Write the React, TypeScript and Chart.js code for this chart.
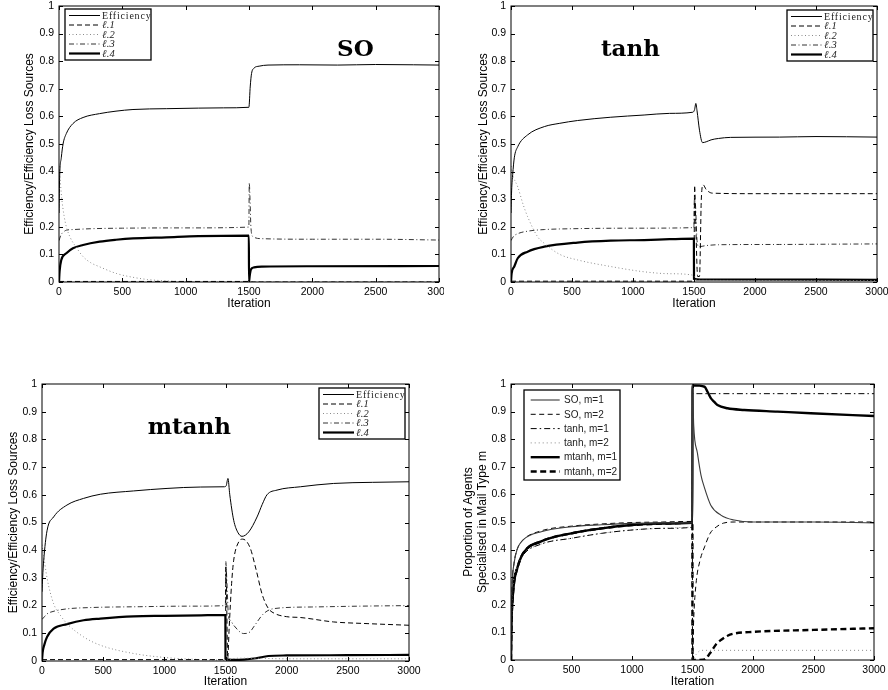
import React, { useEffect, useRef } from 'react';
import { Chart, registerables } from 'chart.js';
Chart.register(...registerables);

type Pt = [number, number];

// ---------- tick labels / text ----------
const X_TICKS = ['0', '500', '1000', '1500', '2000', '2500', '3000'];
const Y_TICKS = ['0', '0.1', '0.2', '0.3', '0.4', '0.5', '0.6', '0.7', '0.8', '0.9', '1'];
const LOSS_LABELS = ['Efficiency', 'ℓ.1', 'ℓ.2', 'ℓ.3', 'ℓ.4'];
const SPEC_LABELS = ['SO, m=1', 'SO, m=2', 'tanh, m=1', 'tanh, m=2', 'mtanh, m=1', 'mtanh, m=2'];
const PANEL_TITLES = ['SO', 'tanh', 'mtanh'];
const LOSS_Y_TITLE = 'Efficiency/Efficiency Loss Sources';
const SPEC_Y_TITLE = ['Proportion of Agents', 'Specialised in Mail Type m'];
const X_TITLE = 'Iteration';

// ---------- data: [iteration, value] ----------
// SO
const soEff: Pt[] = [[0,0.25],[5,0.38],[18,0.45],[32,0.5],[58,0.538],[110,0.574],[190,0.596],[320,0.61],[450,0.619],[584,0.625],[847,0.628],[1100,0.63],[1300,0.631],[1499,0.633],[1510,0.71],[1520,0.755],[1540,0.775],[1580,0.782],[1650,0.786],[1900,0.787],[2200,0.786],[2500,0.788],[2800,0.787],[3000,0.786]];
const soL1: Pt[] = [[0,0.002],[1499,0.002],[1500,0],[3000,0]];
const soL2: Pt[] = [[0,0.42],[8,0.38],[20,0.31],[40,0.24],[58,0.2],[90,0.16],[137,0.125],[190,0.092],[250,0.07],[321,0.055],[452,0.031],[584,0.017],[700,0.009],[847,0.004],[1000,0.001],[1490,0],[3000,0]];
const soL3: Pt[] = [[0,0.15],[15,0.17],[32,0.18],[60,0.188],[110,0.19],[250,0.193],[500,0.195],[1000,0.196],[1499,0.199],[1502,0.36],[1508,0.3],[1515,0.2],[1530,0.165],[1600,0.157],[2000,0.155],[2500,0.155],[3000,0.152]];
const soL4: Pt[] = [[0,0],[5,0.04],[18,0.08],[58,0.104],[110,0.122],[190,0.134],[321,0.146],[450,0.153],[584,0.158],[847,0.162],[1100,0.166],[1499,0.168],[1500,0],[1505,0.02],[1515,0.045],[1540,0.053],[1600,0.056],[2000,0.057],[3000,0.058]];
// tanh
const tanhEff: Pt[] = [[0,0.25],[5,0.33],[14,0.39],[27,0.45],[55,0.49],[136,0.533],[273,0.563],[400,0.575],[545,0.585],[818,0.597],[1091,0.605],[1300,0.611],[1490,0.615],[1505,0.625],[1515,0.647],[1525,0.62],[1545,0.55],[1570,0.505],[1600,0.508],[1640,0.515],[1700,0.52],[1800,0.524],[2200,0.525],[2500,0.527],[3000,0.525]];
const tanhL1: Pt[] = [[0,0.003],[1499,0.003],[1505,0.35],[1515,0.2],[1530,0.02],[1545,0.02],[1560,0.3],[1575,0.352],[1600,0.335],[1650,0.322],[2000,0.32],[2500,0.32],[3000,0.32]];
const tanhL2: Pt[] = [[0,0.42],[8,0.4],[20,0.38],[55,0.345],[100,0.28],[136,0.237],[218,0.164],[273,0.14],[400,0.1],[545,0.08],[818,0.056],[1091,0.037],[1300,0.03],[1499,0.024],[1510,0.01],[1560,0.006],[3000,0.005]];
const tanhL3: Pt[] = [[0,0.15],[20,0.165],[55,0.175],[150,0.185],[273,0.19],[500,0.193],[1000,0.195],[1499,0.197],[1503,0.3],[1512,0.28],[1525,0.15],[1540,0.128],[1600,0.132],[1700,0.135],[2200,0.136],[2600,0.137],[3000,0.138]];
const tanhL4: Pt[] = [[0,0],[5,0.03],[27,0.056],[55,0.086],[136,0.11],[273,0.128],[545,0.143],[818,0.15],[1091,0.152],[1300,0.155],[1499,0.157],[1500,0.012],[1550,0.009],[3000,0.008]];
// mtanh
const mEff: Pt[] = [[0,0.25],[5,0.3],[14,0.364],[41,0.47],[95,0.52],[204,0.563],[340,0.587],[477,0.602],[749,0.614],[1022,0.623],[1294,0.628],[1490,0.629],[1505,0.632],[1520,0.659],[1535,0.6],[1567,0.508],[1600,0.465],[1635,0.45],[1690,0.466],[1758,0.52],[1800,0.565],[1839,0.6],[1921,0.617],[2112,0.629],[2384,0.641],[2700,0.645],[3000,0.647]];
const mL1: Pt[] = [[0,0.005],[1499,0.005],[1504,0.34],[1510,0.2],[1518,0.01],[1530,0.12],[1550,0.28],[1567,0.364],[1608,0.43],[1640,0.44],[1700,0.41],[1750,0.33],[1800,0.24],[1850,0.19],[1900,0.172],[2000,0.16],[2112,0.157],[2384,0.141],[2657,0.135],[3000,0.129]];
const mL2: Pt[] = [[0,0.42],[14,0.38],[41,0.3],[95,0.207],[150,0.165],[204,0.135],[340,0.087],[477,0.057],[749,0.027],[1022,0.012],[1250,0.006],[1490,0.003],[1520,0.005],[1600,0.01],[1700,0.01],[2000,0.008],[3000,0.008]];
const mL3: Pt[] = [[0,0.15],[20,0.16],[41,0.17],[100,0.18],[200,0.188],[400,0.193],[800,0.196],[1200,0.198],[1499,0.2],[1502,0.36],[1510,0.3],[1525,0.16],[1540,0.147],[1567,0.129],[1649,0.099],[1700,0.105],[1730,0.123],[1812,0.171],[1894,0.189],[2200,0.195],[2600,0.198],[3000,0.2]];
const mL4: Pt[] = [[0,0],[5,0.03],[20,0.06],[41,0.087],[95,0.117],[204,0.133],[340,0.147],[477,0.153],[749,0.161],[1000,0.163],[1300,0.165],[1499,0.166],[1500,0.008],[1550,0.004],[1650,0.005],[1750,0.01],[1850,0.018],[2000,0.02],[2500,0.021],[3000,0.022]];
// proportions
const soM1: Pt[] = [[0,0],[5,0.2],[10,0.28],[25,0.35],[50,0.4],[100,0.435],[250,0.465],[500,0.483],[750,0.49],[1000,0.495],[1250,0.497],[1499,0.497],[1500,1.0],[1510,0.85],[1541,0.749],[1570,0.67],[1596,0.628],[1651,0.561],[1734,0.525],[1844,0.507],[2000,0.5],[2500,0.5],[3000,0.497]];
const soM2: Pt[] = [[0,0],[5,0.2],[10,0.28],[25,0.35],[50,0.4],[100,0.435],[250,0.468],[500,0.485],[750,0.493],[1000,0.498],[1250,0.5],[1499,0.502],[1500,0],[1510,0.15],[1530,0.28],[1563,0.362],[1600,0.41],[1646,0.459],[1700,0.483],[1756,0.496],[1850,0.5],[3000,0.5]];
const tanhM1: Pt[] = [[0,0],[5,0.15],[10,0.22],[25,0.3],[50,0.335],[100,0.38],[250,0.42],[500,0.441],[750,0.459],[1000,0.471],[1250,0.477],[1499,0.481],[1500,0.965],[3000,0.965]];
const tanhM2: Pt[] = [[0,0],[5,0.15],[10,0.22],[25,0.3],[50,0.335],[100,0.38],[250,0.42],[500,0.441],[750,0.459],[1000,0.471],[1250,0.477],[1499,0.481],[1500,0],[1530,0.02],[1570,0.035],[3000,0.035]];
const mtM1: Pt[] = [[0,0],[5,0.15],[10,0.2],[25,0.28],[50,0.33],[100,0.386],[250,0.43],[500,0.459],[750,0.477],[1000,0.489],[1250,0.494],[1499,0.497],[1500,0.995],[1600,0.99],[1624,0.972],[1650,0.95],[1680,0.935],[1706,0.924],[1789,0.912],[1927,0.906],[2202,0.9],[2477,0.894],[3000,0.884]];
const mtM2: Pt[] = [[0,0],[5,0.15],[10,0.2],[25,0.28],[50,0.33],[100,0.386],[250,0.43],[500,0.459],[750,0.477],[1000,0.489],[1250,0.494],[1499,0.497],[1500,0],[1591,0.001],[1646,0.025],[1700,0.06],[1734,0.072],[1790,0.088],[1837,0.095],[2000,0.102],[2500,0.109],[3000,0.115]];

// title anchor positions (data coordinates)
const TITLE_POS: Pt[] = [[2340, 0.82], [979, 0.82], [1204, 0.818]];

// ---------- styles ----------
type Style = { color: string; width: number; dash: number[] };
const LOSS_STYLES: Style[] = [
  { color: '#000', width: 1, dash: [] },
  { color: '#000', width: 1, dash: [5, 3] },
  { color: '#8a8a8a', width: 1, dash: [1, 2.5] },
  { color: '#333', width: 1, dash: [5, 2.5, 1, 2.5] },
  { color: '#000', width: 2.2, dash: [] },
];
const SPEC_STYLES: Style[] = [
  { color: '#3a3a3a', width: 1.1, dash: [] },
  { color: '#000', width: 1, dash: [5, 3.5] },
  { color: '#000', width: 1, dash: [6, 3, 1.5, 3] },
  { color: '#888', width: 1, dash: [1, 3] },
  { color: '#000', width: 2.4, dash: [] },
  { color: '#000', width: 2.4, dash: [6, 3.5] },
];

type LegendCfg = {
  anchor: 'left' | 'right'; dx: number; dy: number; w: number; h: number;
  first: number; step: number; l0: number; l1: number; tx: number; sans: boolean;
};

type PanelCfg = {
  left: number; top: number; w: number; h: number;
  yW: number; xH: number; padTop: number; padRight: number;
  yTitle: string | string[]; yTitlePad: number; yTitleLH: number; xTitlePad: number;
  series: Pt[][]; labels: string[]; styles: Style[];
  title?: string; titlePos?: Pt; legend: LegendCfg;
};

const TICK_FONT = { family: '"Liberation Sans", Arial, sans-serif', size: 10.5 };
const AXIS_TITLE_FONT = { family: '"Liberation Sans", Arial, sans-serif', size: 12 };

function makeDecor(cfg: PanelCfg) {
  return {
    id: 'decor',
    afterDatasetsDraw(chart: any) {
      if (!cfg.title || !cfg.titlePos) return;
      const ctx = chart.ctx as CanvasRenderingContext2D;
      const xs = chart.scales.x, ys = chart.scales.y;
      ctx.save();
      ctx.font = 'bold 23px "DejaVu Serif", serif';
      ctx.fillStyle = '#000';
      ctx.textAlign = 'center';
      ctx.textBaseline = 'alphabetic';
      ctx.fillText(cfg.title, xs.getPixelForValue(cfg.titlePos[0]), ys.getPixelForValue(cfg.titlePos[1]));
      ctx.restore();
    },
    afterDraw(chart: any) {
      const ctx = chart.ctx as CanvasRenderingContext2D;
      const a = chart.chartArea;
      const xs = chart.scales.x, ys = chart.scales.y;
      ctx.save();
      // frame
      ctx.strokeStyle = '#000';
      ctx.lineWidth = 1;
      ctx.setLineDash([]);
      ctx.strokeRect(a.left, a.top, a.right - a.left, a.bottom - a.top);
      // inner ticks
      const tl = 4;
      ctx.beginPath();
      xs.ticks.forEach((t: any) => {
        const px = Math.round(xs.getPixelForValue(t.value)) + 0.5;
        ctx.moveTo(px, a.bottom); ctx.lineTo(px, a.bottom - tl);
        ctx.moveTo(px, a.top); ctx.lineTo(px, a.top + tl);
      });
      ys.ticks.forEach((t: any) => {
        const py = Math.round(ys.getPixelForValue(t.value)) + 0.5;
        ctx.moveTo(a.left, py); ctx.lineTo(a.left + tl, py);
        ctx.moveTo(a.right, py); ctx.lineTo(a.right - tl, py);
      });
      ctx.stroke();
      // legend
      const L = cfg.legend;
      const bx = L.anchor === 'left' ? a.left + L.dx : a.right - L.dx - L.w;
      const by = a.top + L.dy;
      ctx.fillStyle = '#fff';
      ctx.fillRect(bx, by, L.w, L.h);
      ctx.lineWidth = 1.3;
      ctx.strokeStyle = '#000';
      ctx.strokeRect(bx, by, L.w, L.h);
      cfg.labels.forEach((lab, i) => {
        const st = cfg.styles[i];
        const y = by + L.first + i * L.step;
        ctx.beginPath();
        ctx.strokeStyle = st.color;
        ctx.lineWidth = st.width;
        ctx.setLineDash(st.dash);
        ctx.moveTo(bx + L.l0, y);
        ctx.lineTo(bx + L.l1, y);
        ctx.stroke();
        ctx.setLineDash([]);
        ctx.fillStyle = '#222';
        ctx.textAlign = 'left';
        ctx.textBaseline = 'middle';
        if (L.sans) {
          ctx.font = '10px "Liberation Sans", Arial, sans-serif';
          (ctx as any).letterSpacing = '0px';
        } else if (lab === 'Efficiency') {
          ctx.font = '10px "Liberation Serif", serif';
          (ctx as any).letterSpacing = '0.8px';
        } else {
          ctx.font = 'italic 10.5px "Liberation Serif", serif';
          (ctx as any).letterSpacing = '0.3px';
        }
        ctx.fillText(lab, bx + L.tx, y + 0.5);
        (ctx as any).letterSpacing = '0px';
      });
      ctx.restore();
    },
  };
}

function buildChart(canvas: HTMLCanvasElement, cfg: PanelCfg) {
  return new Chart(canvas, {
    type: 'line',
    data: {
      datasets: cfg.series.map((s, i) => ({
        label: cfg.labels[i],
        data: s.map(([x, y]) => ({ x, y })),
        borderColor: cfg.styles[i].color,
        borderWidth: cfg.styles[i].width,
        borderDash: cfg.styles[i].dash,
        pointRadius: 0,
        fill: false,
        cubicInterpolationMode: 'monotone',
      })),
    } as any,
    options: {
      animation: false,
      responsive: false,
      maintainAspectRatio: false,
      events: [],
      layout: { padding: { top: cfg.padTop, right: cfg.padRight, left: 0, bottom: 0 } },
      plugins: { legend: { display: false }, tooltip: { enabled: false }, title: { display: false } },
      scales: {
        x: {
          type: 'linear', min: 0, max: 3000,
          grid: { display: false, drawTicks: false },
          border: { display: false },
          ticks: {
            stepSize: 500, autoSkip: false, maxRotation: 0, padding: 4, color: '#000', font: TICK_FONT,
            callback: (_v: any, i: number) => X_TICKS[i],
          },
          title: { display: true, text: X_TITLE, color: '#000', font: AXIS_TITLE_FONT, padding: { top: 0, bottom: cfg.xTitlePad } },
          afterFit: (s: any) => { s.height = cfg.xH; s.paddingLeft = 0; s.paddingRight = 0; },
        },
        y: {
          type: 'linear', min: 0, max: 1,
          grid: { display: false, drawTicks: false },
          border: { display: false },
          ticks: {
            stepSize: 0.1, autoSkip: false, padding: 5, color: '#000', font: TICK_FONT,
            callback: (_v: any, i: number) => Y_TICKS[i],
          },
          title: {
            display: true, text: cfg.yTitle, color: '#000',
            font: { ...AXIS_TITLE_FONT, lineHeight: cfg.yTitleLH },
            padding: { top: cfg.yTitlePad, bottom: 0 },
          },
          afterFit: (s: any) => { s.width = cfg.yW; s.paddingTop = 0; s.paddingBottom = 0; },
        },
      },
    } as any,
    plugins: [makeDecor(cfg)],
  });
}

const lossLegend = (anchor: 'left' | 'right', dx: number, dy: number): LegendCfg => ({
  anchor, dx, dy, w: 86, h: 51, first: 6.5, step: 9.5, l0: 4, l1: 35, tx: 37, sans: false,
});

const PANELS: PanelCfg[] = [
  {
    left: 0, top: 0, w: 444, h: 320, yW: 59, xH: 38, padTop: 6, padRight: 5,
    yTitle: LOSS_Y_TITLE, yTitlePad: 22.8, yTitleLH: 1.2, xTitlePad: 8.8,
    series: [soEff, soL1, soL2, soL3, soL4], labels: LOSS_LABELS, styles: LOSS_STYLES,
    title: PANEL_TITLES[0], titlePos: TITLE_POS[0], legend: lossLegend('left', 6, 3),
  },
  {
    left: 444, top: 0, w: 444, h: 320, yW: 67, xH: 38, padTop: 6, padRight: 11,
    yTitle: LOSS_Y_TITLE, yTitlePad: 32.1, yTitleLH: 1.2, xTitlePad: 8.8,
    series: [tanhEff, tanhL1, tanhL2, tanhL3, tanhL4], labels: LOSS_LABELS, styles: LOSS_STYLES,
    title: PANEL_TITLES[1], titlePos: TITLE_POS[1], legend: lossLegend('right', 4, 4),
  },
  {
    left: 0, top: 320, w: 444, h: 370, yW: 42, xH: 29, padTop: 64, padRight: 35,
    yTitle: LOSS_Y_TITLE, yTitlePad: 6.1, yTitleLH: 1.2, xTitlePad: 1.1,
    series: [mEff, mL1, mL2, mL3, mL4], labels: LOSS_LABELS, styles: LOSS_STYLES,
    title: PANEL_TITLES[2], titlePos: TITLE_POS[2], legend: lossLegend('right', 4, 4),
  },
  {
    left: 444, top: 320, w: 444, h: 370, yW: 67, xH: 30, padTop: 64, padRight: 14,
    yTitle: SPEC_Y_TITLE, yTitlePad: 18.4, yTitleLH: 1.1, xTitlePad: 1.1,
    series: [soM1, soM2, tanhM1, tanhM2, mtM1, mtM2], labels: SPEC_LABELS, styles: SPEC_STYLES,
    legend: { anchor: 'left', dx: 13, dy: 6, w: 96, h: 90, first: 10, step: 14.3, l0: 6.7, l1: 35.7, tx: 40, sans: true },
  },
];

function Panel({ cfg }: { cfg: PanelCfg }) {
  const ref = useRef<HTMLCanvasElement>(null);
  useEffect(() => {
    const chart = buildChart(ref.current as HTMLCanvasElement, cfg);
    return () => chart.destroy();
  }, [cfg]);
  return (
    <canvas
      ref={ref}
      width={cfg.w}
      height={cfg.h}
      style={{ position: 'absolute', left: cfg.left, top: cfg.top, width: cfg.w, height: cfg.h }}
    />
  );
}

export default function App() {
  return (
    <div style={{ position: 'fixed', left: 0, top: 0, width: 888, height: 690, background: '#fff', overflow: 'hidden' }}>
      {PANELS.map((p, i) => <Panel key={i} cfg={p} />)}
    </div>
  );
}
